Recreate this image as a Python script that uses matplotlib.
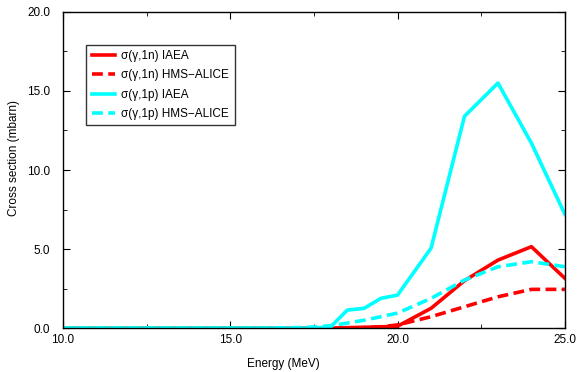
import matplotlib
matplotlib.use("Agg")
import matplotlib.pyplot as plt
from matplotlib.ticker import MultipleLocator, FormatStrFormatter

plt.rcParams['font.family'] = ['Liberation Sans', 'DejaVu Sans']

# Energia (MeV)
energy = [10, 11, 12, 13, 14, 15, 16, 17, 17.5, 18, 18.5, 19, 19.5, 20, 21, 22, 23, 24, 25]

# secciones eficaces (mbarn)
n_iaea = [0, 0, 0, 0, 0, 0, 0, 0, 0, 0, 0.03, 0.05, 0.08, 0.12, 1.25, 3.0, 4.3, 5.15, 3.15]
n_hms = [0, 0, 0, 0, 0, 0, 0, 0, 0, 0, 0.01, 0.03, 0.08, 0.2, 0.72, 1.35, 1.98, 2.45, 2.45]
p_iaea = [0, 0, 0, 0, 0, 0, 0, 0, 0, 0.08, 1.14, 1.25, 1.88, 2.09, 5.05, 13.4, 15.5, 11.7, 7.2]
p_hms = [0, 0, 0, 0, 0, 0, 0, 0.03, 0.07, 0.15, 0.32, 0.5, 0.72, 0.95, 1.88, 3.04, 3.88, 4.2, 3.88]

fig = plt.figure(figsize=(5.77, 3.72), dpi=100)
ax = fig.add_axes([0.109, 0.118, 0.870, 0.850])

lw = 2.6
ax.plot(energy, n_iaea, color='#ff0000', lw=lw, label='σ(γ,1n) IAEA')
ax.plot(energy, n_hms, color='#ff0000', lw=lw, ls=(0, (3, 1.5)), label='σ(γ,1n) HMS\u2212ALICE')
ax.plot(energy, p_iaea, color='#00ffff', lw=lw, label='σ(γ,1p) IAEA')
ax.plot(energy, p_hms, color='#00ffff', lw=lw, ls=(0, (3, 1.5)), label='σ(γ,1p) HMS\u2212ALICE')

ax.set_xlim(10, 25)
ax.set_ylim(0, 20)
ax.xaxis.set_major_locator(MultipleLocator(5))
ax.xaxis.set_minor_locator(MultipleLocator(2.5))
ax.yaxis.set_major_locator(MultipleLocator(5))
ax.yaxis.set_minor_locator(MultipleLocator(2.5))
ax.xaxis.set_major_formatter(FormatStrFormatter('%.1f'))
ax.yaxis.set_major_formatter(FormatStrFormatter('%.1f'))
ax.tick_params(which='both', direction='in', top=True, right=True, labelsize=8.5)
ax.tick_params(axis='x', pad=4)
ax.tick_params(axis='y', pad=9)
ax.tick_params(which='major', length=5)
ax.tick_params(which='minor', length=3)
for s in ax.spines.values():
    s.set_linewidth(1)

ax.set_xlabel('Energy (MeV)', fontsize=8.5, labelpad=9)
ax.xaxis.set_label_coords(0.44, -0.095)
ax.set_ylabel('Cross section (mbarn)', fontsize=8.5)
ax.yaxis.set_label_coords(-0.085, 0.538)

leg = ax.legend(loc='upper left', bbox_to_anchor=(0.047, 0.896), fontsize=8.5,
                frameon=True, fancybox=False, handlelength=2.0, handletextpad=0.5,
                borderpad=0.45, labelspacing=0.62, borderaxespad=0)
leg.get_frame().set_edgecolor('black')
leg.get_frame().set_linewidth(1)

fig.savefig('out.png', dpi=100)
